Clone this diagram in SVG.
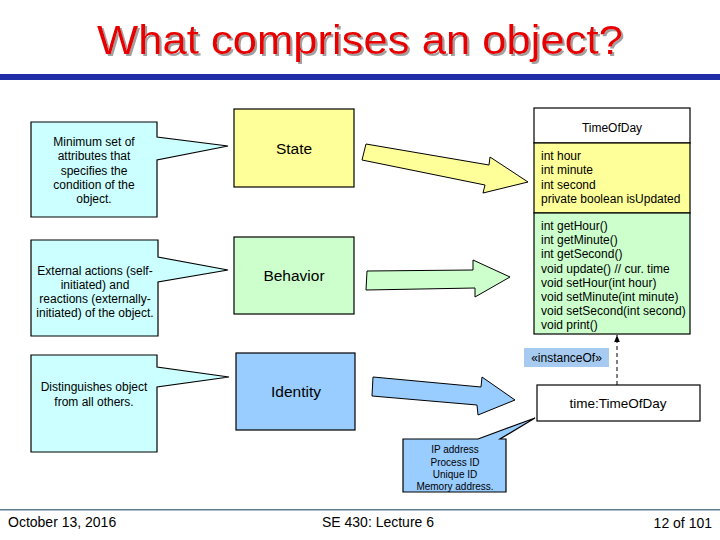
<svg xmlns="http://www.w3.org/2000/svg" width="720" height="540" viewBox="0 0 720 540">
<style>
text{font-family:"Liberation Sans",Arial,sans-serif;fill:#000}
.call{fill:#ccffff;stroke:#000;stroke-width:1.2;stroke-linejoin:miter}
.t12{font-size:12px}
.mid{text-anchor:middle}
.box{stroke:#000;stroke-width:1.2}
.fat{stroke:#000;stroke-width:1}
.title{font-size:41px}
.foot{font-size:14px}
</style>
<defs>
<marker id="ah" viewBox="0 0 10 10" refX="10" refY="5" markerWidth="7" markerHeight="7" orient="auto">
<path d="M0,1 L10,5 L0,9 Z" fill="#000"/>
</marker>
<filter id="shadow" x="-5%" y="-20%" width="110%" height="140%">
<feDropShadow dx="2" dy="2" stdDeviation="0" flood-color="#a0a0a0" flood-opacity="1"/>
</filter>
</defs>
<rect width="720" height="540" fill="#fff"/>
<g id="title">
<text x="360" y="54" class="title mid" style="fill:#e80000" filter="url(#shadow)" textLength="526" lengthAdjust="spacingAndGlyphs">What comprises an object?</text>
<rect x="0" y="74" width="720" height="6" fill="#1f2ea6"/>
</g>
<g id="callout-state">
<path class="call" d="M31,122 H157 V137 L228,146 L157,160 V217 H31 Z"/>
<text class="t12 mid" x="94" y="146">Minimum set of</text>
<text class="t12 mid" x="94" y="160">attributes that</text>
<text class="t12 mid" x="94" y="174.5">specifies the</text>
<text class="t12 mid" x="94" y="188.5">condition of the</text>
<text class="t12 mid" x="94" y="203">object.</text>
</g>
<g id="callout-behavior">
<path class="call" d="M31,240 H158 V257 L228,270 L158,282 V336 H31 Z"/>
<text class="t12 mid" x="95" y="275">External actions (self-</text>
<text class="t12 mid" x="95" y="289">initiated) and</text>
<text class="t12 mid" x="95" y="303">reactions (externally-</text>
<text class="t12 mid" x="95" y="317">initiated) of the object.</text>
</g>
<g id="callout-identity">
<path class="call" d="M31,355 H157 V367 L229,377 L157,387 V452 H31 Z"/>
<text class="t12 mid" x="94" y="391">Distinguishes object</text>
<text class="t12 mid" x="94" y="406">from all others.</text>
</g>
<g id="state">
<rect class="box" x="234" y="109" width="120" height="78" fill="#ffff99"/>
<text x="294" y="154" class="mid" font-size="15.5">State</text>
</g>
<g id="behavior">
<rect class="box" x="234" y="237" width="120" height="77" fill="#ccffcc"/>
<text x="294" y="281" class="mid" font-size="15.5">Behavior</text>
</g>
<g id="identity">
<rect class="box" x="236" y="353" width="119" height="77" fill="#99ccff"/>
<text x="296" y="397" class="mid" font-size="15.5">Identity</text>
</g>
<g id="connectors">
<polygon class="fat" fill="#ffff99" points="366,144 489,165 490,157 528,182 483,193 485,185 362,160"/>
<polygon class="fat" fill="#ccffcc" points="367,271 473,270 473,260 510,277 475,297 475,288 366,290"/>
<polygon class="fat" fill="#99ccff" points="373,377 481,387 482,377 515,400 478,415 477,405 372,396"/>
<line x1="617" y1="385" x2="617" y2="335" stroke="#000" stroke-width="1" stroke-dasharray="4,3" marker-end="url(#ah)"/>
</g>
<g id="class-timeofday">
<rect class="box" x="534" y="108" width="156" height="35" fill="#fff"/>
<rect class="box" x="534" y="143" width="156" height="70" fill="#ffff99"/>
<rect class="box" x="534" y="213" width="156" height="121" fill="#ccffcc"/>
<text x="612" y="132" class="t12 mid">TimeOfDay</text>
<text x="541" y="160" class="t12">int hour</text>
<text x="541" y="174.3" class="t12">int minute</text>
<text x="541" y="188.6" class="t12">int second</text>
<text x="541" y="203" class="t12">private boolean isUpdated</text>
<text x="541" y="230" class="t12">int getHour()</text>
<text x="541" y="244.2" class="t12">int getMinute()</text>
<text x="541" y="258.4" class="t12">int getSecond()</text>
<text x="541" y="272.6" class="t12">void update()  // cur. time</text>
<text x="541" y="286.8" class="t12">void setHour(int hour)</text>
<text x="541" y="301" class="t12">void setMinute(int minute)</text>
<text x="541" y="315.2" class="t12">void setSecond(int second)</text>
<text x="541" y="329.4" class="t12">void print()</text>
</g>
<g id="instanceof-label">
<rect x="524" y="348" width="85" height="19" fill="#a6caf0"/>
<text x="566.5" y="362" class="t12 mid">«instanceOf»</text>
</g>
<g id="instance">
<rect class="box" x="537" y="385" width="163" height="36" fill="#fff"/>
<text x="618" y="408" class="mid" font-size="13.5">time:TimeOfDay</text>
</g>
<g id="callout-ip">
<path class="call" style="fill:#99ccff" d="M403,439 H478 L535,418 L500,439 H506 V492 H403 Z"/>
<text x="455" y="453" class="mid" font-size="10">IP address</text>
<text x="455" y="465.5" class="mid" font-size="10">Process ID</text>
<text x="455" y="478" class="mid" font-size="10">Unique ID</text>
<text x="455" y="490" class="mid" font-size="10">Memory address.</text>
</g>
<g id="footer">
<rect x="0" y="509" width="720" height="1.5" fill="#5f7f8f"/>
<text x="8" y="527" class="foot">October 13, 2016</text>
<text x="378" y="527" class="foot mid">SE 430: Lecture 6</text>
<text x="712" y="528" class="foot" text-anchor="end">12 of 101</text>
</g>
</svg>
